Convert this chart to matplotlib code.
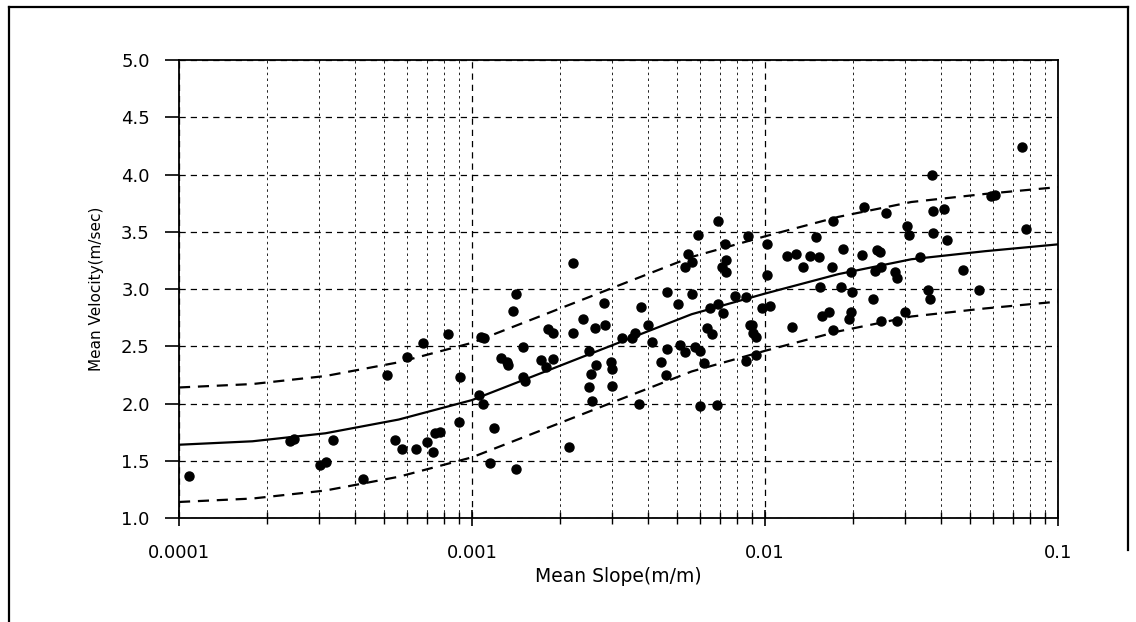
import matplotlib
matplotlib.use("Agg")
import matplotlib.pyplot as plt
from matplotlib.lines import Line2D
import numpy as np

# observed points (mean slope m/m, mean velocity m/s)
slope = [1.08e-4, 2.39e-4, 2.47e-4, 3.36e-4, 3.03e-4, 3.17e-4, 4.25e-4, 5.46e-4, 5.77e-4, 6.44e-4,
         7.02e-4, 7.36e-4, 7.48e-4, 7.78e-4, 9.03e-4, 1.057e-3, 5.13e-4, 6.0e-4, 6.8e-4, 8.28e-4,
         9.1e-4, 1.09e-3, 1.19e-3, 1.15e-3, 1.41e-3, 2.51e-3, 2.57e-3, 3.01e-3, 3.72e-3, 2.14e-3,
         6.0e-3, 6.85e-3, 1.07e-3, 1.10e-3, 1.38e-3, 1.41e-3, 1.49e-3, 1.26e-3, 1.32e-3, 1.33e-3,
         1.49e-3, 1.52e-3, 1.72e-3, 1.79e-3, 1.89e-3, 1.82e-3, 1.89e-3, 2.21e-3, 2.21e-3, 2.39e-3,
         2.51e-3, 2.63e-3, 2.65e-3, 2.55e-3, 2.82e-3, 2.85e-3, 2.98e-3, 3.01e-3, 3.25e-3, 3.52e-3,
         3.60e-3, 3.77e-3, 3.99e-3, 4.12e-3, 4.42e-3, 4.63e-3, 4.60e-3, 4.63e-3, 5.05e-3, 5.13e-3,
         5.33e-3, 5.33e-3, 5.63e-3, 5.46e-3, 5.90e-3, 5.63e-3, 5.77e-3, 6.0e-3, 6.19e-3, 6.34e-3,
         6.59e-3, 6.49e-3, 6.91e-3, 7.19e-3, 6.91e-3, 7.30e-3, 7.36e-3, 7.13e-3, 7.36e-3, 7.91e-3,
         8.61e-3, 8.75e-3, 8.89e-3, 8.61e-3, 1.016e-2, 1.016e-2, 9.77e-3, 1.04e-2, 9.04e-3, 9.1e-3,
         9.31e-3, 9.31e-3, 1.19e-2, 1.28e-2, 1.43e-2, 1.53e-2, 1.35e-2, 1.49e-2, 1.71e-2, 1.54e-2,
         1.24e-2, 1.57e-2, 1.65e-2, 1.69e-2, 1.71e-2, 1.85e-2, 1.82e-2, 1.97e-2, 1.98e-2, 1.97e-2,
         1.94e-2, 2.14e-2, 2.18e-2, 2.34e-2, 2.41e-2, 2.47e-2, 2.37e-2, 2.49e-2, 2.49e-2, 2.59e-2,
         2.78e-2, 2.82e-2, 2.82e-2, 3.01e-2, 3.05e-2, 3.10e-2, 3.38e-2, 3.60e-2, 3.65e-2, 3.74e-2,
         4.08e-2, 3.74e-2, 4.18e-2, 4.74e-2, 5.37e-2, 5.9e-2, 6.1e-2, 3.72e-2, 7.53e-2, 7.78e-2]
velocity = [1.37, 1.67, 1.69, 1.68, 1.46, 1.49, 1.34, 1.68, 1.60, 1.60,
            1.66, 1.58, 1.74, 1.75, 1.84, 2.07, 2.25, 2.41, 2.53, 2.61,
            2.23, 2.00, 1.79, 1.48, 1.43, 2.14, 2.02, 2.15, 2.00, 1.62,
            1.98, 1.99, 2.58, 2.57, 2.81, 2.96, 2.49, 2.40, 2.36, 2.34,
            2.23, 2.20, 2.38, 2.32, 2.39, 2.65, 2.62, 3.23, 2.62, 2.74,
            2.46, 2.66, 2.34, 2.26, 2.88, 2.69, 2.36, 2.30, 2.57, 2.57,
            2.62, 2.84, 2.69, 2.54, 2.36, 2.48, 2.25, 2.97, 2.87, 2.51,
            2.45, 3.19, 3.24, 3.31, 3.47, 2.96, 2.49, 2.46, 2.35, 2.66,
            2.61, 2.83, 2.87, 2.79, 3.59, 3.39, 3.25, 3.19, 3.15, 2.94,
            2.93, 3.46, 2.69, 2.37, 3.39, 3.12, 2.83, 2.85, 2.69, 2.62,
            2.58, 2.42, 3.29, 3.31, 3.29, 3.28, 3.19, 3.45, 3.59, 3.02,
            2.67, 2.76, 2.80, 3.19, 2.64, 3.35, 3.02, 3.15, 2.97, 2.80,
            2.74, 3.30, 3.72, 2.91, 3.34, 3.32, 3.16, 3.19, 2.72, 3.66,
            3.15, 3.10, 2.72, 2.80, 3.55, 3.47, 3.28, 2.99, 2.91, 3.68,
            3.70, 3.49, 3.43, 3.17, 2.99, 3.81, 3.82, 4.00, 4.24, 3.52]

# fitted curve and band, read at quarter decades
fit_slope = [0.0001, 0.000178, 0.000316, 0.000562, 0.001, 0.00178, 0.00316,
             0.00562, 0.01, 0.0178, 0.0316, 0.0562, 0.1]
fit_mid = [1.64, 1.67, 1.74, 1.86, 2.03, 2.28, 2.53, 2.78, 2.96, 3.13, 3.26, 3.33, 3.39]
fit_upper = [2.14, 2.17, 2.24, 2.36, 2.53, 2.78, 3.03, 3.28, 3.46, 3.63, 3.76, 3.83, 3.89]
fit_lower = [1.14, 1.17, 1.24, 1.36, 1.53, 1.78, 2.03, 2.28, 2.46, 2.63, 2.76, 2.83, 2.89]

x_ticks = [0.0001, 0.001, 0.01, 0.1]
x_labels = ['0.0001', '0.001', '0.01', '0.1']
y_ticks = [1.0, 1.5, 2.0, 2.5, 3.0, 3.5, 4.0, 4.5, 5.0]

plt.rcParams['font.family'] = ['DejaVu Sans']

fig = plt.figure(figsize=(11.36, 6.22), dpi=100)
ax = fig.add_axes([0.1576, 0.1672, 0.7737, 0.7363])

ax.set_xscale('log')
ax.set_xlim(0.0001, 0.1)
ax.set_ylim(1.0, 5.0)

ax.grid(which='major', axis='both', color='black', linestyle=(0, (5, 4)), linewidth=0.9)
ax.grid(which='minor', axis='x', color='black', linestyle=(0, (3, 4)), linewidth=0.6)
ax.set_axisbelow(True)

ax.plot(fit_slope, fit_mid, color='black', linewidth=1.6, zorder=3)
ax.plot(fit_slope, fit_upper, color='black', linewidth=1.6, linestyle=(0, (5, 3.5)), zorder=3)
ax.plot(fit_slope, fit_lower, color='black', linewidth=1.6, linestyle=(0, (5, 3.5)), zorder=3)
ax.plot(slope, velocity, 'o', color='black', markersize=6.5, zorder=4)

ax.set_xticks(x_ticks, labels=x_labels)
ax.set_yticks(y_ticks, labels=['%.1f' % v for v in y_ticks])
ax.tick_params(axis='x', which='major', direction='inout', length=12, width=1.2, pad=13, labelsize=13)
ax.tick_params(axis='x', which='minor', direction='inout', length=8, width=1.0)
ax.tick_params(axis='y', which='major', direction='out', length=10, width=1.2, pad=11, labelsize=13)
ax.tick_params(axis='x', which='minor', labelbottom=False)

for s in ax.spines.values():
    s.set_linewidth(1.3)

ax.set_xlabel('Mean Slope(m/m)', fontsize=13.5, labelpad=3)
ax.set_ylabel('Mean Velocity(m/sec)', fontsize=11, labelpad=12)

# page frame around the chart
fx0, fx1 = 9 / 1136, 1128 / 1136
fy_top = 1 - 7 / 622
fig.add_artist(Line2D([fx0, fx0], [0, fy_top], color='black', linewidth=1.6))
fig.add_artist(Line2D([fx0, fx1], [fy_top, fy_top], color='black', linewidth=1.6))
fig.add_artist(Line2D([fx1, fx1], [fy_top, 1 - 550 / 622], color='black', linewidth=1.6))

fig.savefig('out.png', dpi=100)
